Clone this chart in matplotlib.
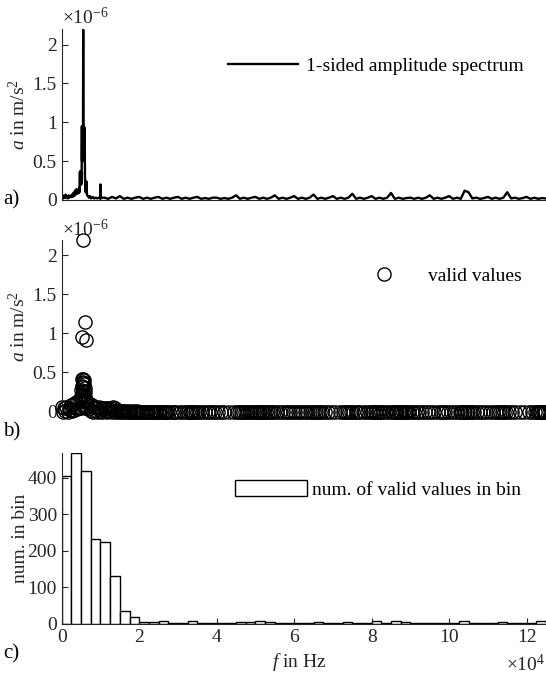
import numpy as np
import matplotlib.pyplot as plt
from matplotlib.ticker import FuncFormatter

plt.rcParams['font.family'] = 'Liberation Serif'
plt.rcParams['mathtext.fontset'] = 'custom'
plt.rcParams['mathtext.rm'] = 'Liberation Serif'
plt.rcParams['mathtext.it'] = 'Liberation Serif:italic'
plt.rcParams['font.size'] = 14

gray = '#262626'

# 1-sided amplitude spectrum, f in kHz, a in 1e-6 m/s^2 (low part, read point by point)
spec_f_low = [0.0, 0.08, 0.25, 0.4, 0.6, 0.8, 1.0, 1.2, 1.4, 1.6, 1.8, 2.0, 2.2, 2.4, 2.6, 2.8,
              3.0, 3.2, 3.4, 3.6, 3.8, 4.0, 4.2, 4.35, 4.5, 4.6, 4.7, 4.75, 4.8, 4.85, 4.9, 4.95,
              5.0, 5.05, 5.1, 5.15, 5.2, 5.25, 5.3, 5.35, 5.4, 5.45, 5.5, 5.55, 5.6, 5.65, 5.7,
              5.75, 5.8, 5.85, 5.9, 5.95, 6.0, 6.05, 6.1, 6.15, 6.2, 6.25, 6.3, 6.35, 6.4, 6.45,
              6.5, 6.6, 6.8, 7.0, 7.3, 7.6, 8.0, 8.4, 8.8, 9.2, 9.6, 9.95, 10.0, 10.05, 10.5]
spec_a_low = [0.20, 0.03, 0.06, 0.02, 0.05, 0.03, 0.07, 0.03, 0.05, 0.02, 0.06, 0.03, 0.05, 0.04, 0.07, 0.04,
              0.09, 0.05, 0.12, 0.07, 0.14, 0.08, 0.13, 0.09, 0.16, 0.10, 0.36, 0.20, 0.37, 0.25, 0.37, 0.20,
              0.35, 0.20, 0.30, 0.30, 0.95, 0.50, 0.95, 0.60, 0.95, 0.70, 0.90, 2.19, 0.80, 0.95, 0.60,
              0.93, 0.50, 0.93, 0.60, 0.93, 0.30, 0.24, 0.12, 0.24, 0.10, 0.24, 0.12, 0.23, 0.10, 0.23,
              0.08, 0.06, 0.05, 0.03, 0.05, 0.02, 0.04, 0.02, 0.03, 0.02, 0.03, 0.02, 0.20, 0.02, 0.03]
# upper part, one value per kHz from 11 kHz on
spec_a_high = [0.03, 0.015, 0.04, 0.02, 0.05, 0.015, 0.03, 0.015, 0.03, 0.04,
               0.015, 0.03, 0.015, 0.03, 0.04, 0.015, 0.03, 0.015, 0.03, 0.04,
               0.015, 0.03, 0.015, 0.03, 0.04, 0.015, 0.025, 0.015, 0.03, 0.03,
               0.015, 0.025, 0.015, 0.03, 0.06, 0.015, 0.03, 0.015, 0.03, 0.04,
               0.015, 0.03, 0.015, 0.03, 0.06, 0.015, 0.03, 0.015, 0.03, 0.05,
               0.015, 0.03, 0.015, 0.03, 0.07, 0.015, 0.03, 0.015, 0.03, 0.05,
               0.015, 0.03, 0.015, 0.03, 0.08, 0.015, 0.03, 0.015, 0.03, 0.05,
               0.015, 0.03, 0.015, 0.03, 0.09, 0.015, 0.03, 0.015, 0.025, 0.03,
               0.015, 0.03, 0.015, 0.03, 0.06, 0.015, 0.03, 0.015, 0.03, 0.05,
               0.015, 0.03, 0.015, 0.12, 0.10, 0.02, 0.03, 0.015, 0.025, 0.04,
               0.015, 0.03, 0.015, 0.03, 0.10, 0.02, 0.03, 0.015, 0.025, 0.04,
               0.015, 0.03, 0.015, 0.025, 0.02]
spec_f_high = 11 + np.arange(len(spec_a_high))

# valid values (kHz, 1e-6 m/s^2)
tall_f = [5.55, 5.9, 5.2, 6.3]
tall_a = [2.19, 1.14, 0.95, 0.92]
clus_f = [5.3, 5.5, 5.7, 5.4, 5.6, 5.8, 5.2, 5.5, 5.9, 5.1, 5.6, 6.0, 5.3, 5.7, 4.9, 6.1, 5.0, 5.9, 6.4]
clus_a = [0.42, 0.41, 0.40, 0.38, 0.36, 0.35, 0.33, 0.31, 0.30, 0.28, 0.26, 0.25, 0.23, 0.21, 0.20, 0.19,
          0.17, 0.16, 0.15]
low_f = [0.0, 0.3, 0.6, 0.9, 1.2, 1.5, 1.8, 2.1, 2.4, 2.7, 3.0, 3.3, 3.6, 3.9, 4.2, 4.5, 4.8, 5.1, 5.4,
         5.7, 6.0, 6.3, 6.6, 6.9, 7.2, 7.5, 7.8, 8.1, 8.4, 8.7, 9.0, 9.3, 9.6, 9.9, 10.2, 10.5, 10.8,
         11.1, 11.4, 11.7, 12.0, 12.3, 12.6, 12.9, 13.2, 13.5, 13.8, 14.1, 14.4, 14.7, 15.0, 15.3,
         15.6, 15.9, 16.2, 16.5, 16.8, 17.1, 17.4, 17.7, 18.0, 18.3, 18.6, 18.9, 19.2, 19.5, 19.8]
low_a = [0.06, 0.0, 0.05, 0.01, 0.06, 0.0, 0.05, 0.02, 0.08, 0.01, 0.10, 0.02, 0.12, 0.03, 0.14, 0.04,
         0.15, 0.05, 0.14, 0.06, 0.14, 0.04, 0.12, 0.03, 0.10, 0.01, 0.08, 0.0, 0.06, 0.01, 0.05, 0.0,
         0.06, 0.01, 0.05, 0.0, 0.05, 0.01, 0.04, 0.0, 0.05, 0.01, 0.04, 0.0, 0.06, 0.01, 0.05, 0.0,
         0.02, 0.0, 0.01, 0.0, 0.01, 0.0, 0.01, 0.0, 0.01, 0.0, 0.0, 0.01, 0.0, 0.0, 0.01, 0.0, 0.0,
         0.01, 0.0]
tail_f = [20.3, 20.7, 21.1, 21.5, 21.9, 22.3, 22.7, 23.1, 23.6, 24.0, 24.4, 24.8,
          25.2, 25.5, 25.9, 26.3, 26.6, 27.0, 27.3, 27.8, 28.4, 29.0, 29.6, 30.5, 31.3, 32.1,
          32.7, 33.1, 33.4, 33.7, 34.0, 34.4, 34.8, 35.4, 36.2, 37.0, 37.8, 38.4, 39.0, 39.6,
          40.4, 41.2, 42.0, 43.3, 44.4, 45.2, 45.7, 46.2, 46.7, 47.2, 47.7, 48.2, 48.7, 49.2, 49.7,
          50.1, 50.4, 50.8, 51.2, 51.6, 51.9, 52.3, 52.8, 53.3, 53.8, 54.3, 54.8, 55.5, 56.3, 57.1,
          57.8, 58.4, 59.0, 59.6, 60.3, 60.9, 61.5, 62.1, 62.8, 63.4, 64.0, 64.6,
          65.2, 65.7, 66.2, 66.7, 67.2, 68.0, 68.8, 69.6, 70.6, 71.8, 72.7, 73.2, 73.7, 74.2, 74.7,
          75.3, 75.9, 76.5, 77.1, 78.0, 78.8, 79.6, 80.1, 80.4, 80.8, 81.2, 81.6, 81.9, 82.3,
          83.0, 83.8, 84.6, 85.2, 85.5, 85.9, 86.3, 86.6, 87.0, 87.3, 87.7, 88.1, 88.5, 88.9, 89.3, 89.7,
          90.4, 91.0, 91.6, 92.2, 93.0, 93.8, 94.6, 95.4, 96.2, 97.0, 97.8, 98.4, 99.0, 99.6,
          100.5, 101.3, 102.1, 102.7, 103.0, 103.4, 103.8, 104.1, 104.5, 104.8, 105.3, 105.9, 106.5,
          107.1, 108.0, 108.8, 109.6, 110.5, 111.3, 112.1, 112.7, 113.2, 113.7, 114.2, 114.7,
          115.4, 116.2, 117.0, 118.2, 119.4, 120.5, 121.3, 122.1, 122.6, 122.9, 123.2, 123.5,
          123.8, 124.1, 124.4, 124.7]

# histogram: number of valid values per 2.5 kHz bin
bin_counts = [403, 467, 418, 233, 223, 130, 36, 19, 6, 6,
              7, 4, 3, 7, 3, 4, 3, 2, 5, 5,
              7, 5, 3, 4, 4, 4, 5, 3, 2, 5,
              4, 3, 7, 3, 7, 6, 4, 3, 3, 4,
              3, 7, 4, 3, 3, 5, 3, 2, 3, 8]
bin_width = 2500.0
f_max = 125000.0

W, H = 546, 678
fig = plt.figure(figsize=(W / 100, H / 100), dpi=100)


def add_ax(top_px):
    ax = fig.add_axes([61.7 / W, 1 - (top_px + 171) / H, (W - 61.7) / W, 171 / H])
    for s in ['top', 'right']:
        ax.spines[s].set_visible(False)
    for s in ['left', 'bottom']:
        ax.spines[s].set_color(gray)
        ax.spines[s].set_linewidth(0.8)
    ax.tick_params(direction='in', length=4, width=0.8, color=gray, labelcolor=gray, labelsize=14)
    ax.set_xlim(0, f_max)
    ax.set_xticks(np.arange(0, 120001, 20000))
    return ax


fmt = FuncFormatter(lambda v, p: ('%g' % v))

# a) spectrum
ax1 = add_ax(29)
spec_f = np.concatenate([spec_f_low, spec_f_high]) * 1000
spec_a = np.concatenate([spec_a_low, spec_a_high])
ax1.plot(spec_f, spec_a, color='k', lw=1.7, label='1-sided amplitude spectrum')
ax1.set_ylim(0, 2.2)
ax1.set_yticks([0, 0.5, 1, 1.5, 2])
ax1.yaxis.set_major_formatter(fmt)
ax1.set_xticklabels([])
ax1.tick_params(axis='x', length=0)
ax1.set_ylabel(r'$a$ in m/s$^2$', color=gray)
ax1.yaxis.set_label_coords(-0.067, 0.5)
ax1.text(0.0, 1.005, r'×10$^{-6}$', transform=ax1.transAxes, ha='left', va='bottom', color=gray)
ax1.legend(loc='upper left', bbox_to_anchor=(0.343, 0.835), frameon=False, borderpad=0,
           borderaxespad=0, handlelength=3.6, handletextpad=0.4)

# b) valid values
ax2 = add_ax(240.5)
valid_f = np.concatenate([tall_f, clus_f, low_f, tail_f]) * 1000
valid_a = np.concatenate([tall_a, clus_a, low_a, np.zeros(len(tail_f))])
ax2.plot(valid_f, valid_a, 'o', mfc='none', mec='k', ms=9.5, mew=1.0, clip_on=False,
         label='valid values')
ax2.set_ylim(0, 2.19)
ax2.set_yticks([0, 0.5, 1, 1.5, 2])
ax2.yaxis.set_major_formatter(fmt)
ax2.set_xticklabels([])
ax2.spines['bottom'].set_visible(False)
ax2.tick_params(axis='x', length=0)
ax2.set_ylabel(r'$a$ in m/s$^2$', color=gray)
ax2.yaxis.set_label_coords(-0.067, 0.5)
ax2.text(0.0, 1.0, r'×10$^{-6}$', transform=ax2.transAxes, ha='left', va='bottom', color=gray)
ax2.legend(loc='upper left', bbox_to_anchor=(0.591, 0.845), frameon=False, borderpad=0,
           borderaxespad=0, handlelength=3.7, handletextpad=0.4)

# c) histogram
ax3 = add_ax(453)
edges = np.arange(len(bin_counts)) * bin_width
ax3.bar(edges, bin_counts, width=bin_width, align='edge', facecolor='white', edgecolor='k',
        lw=1.0, label='num. of valid values in bin')
ax3.set_ylim(0, max(bin_counts))
ax3.set_yticks([0, 100, 200, 300, 400])
ax3.xaxis.set_major_formatter(FuncFormatter(lambda v, p: '%g' % (v / 1e4)))
ax3.set_ylabel('num. in bin', color=gray)
ax3.yaxis.set_label_coords(-0.067, 0.5)
ax3.set_xlabel(r'$f$ in Hz', color=gray)
ax3.xaxis.set_label_coords(0.49, -0.16)
ax3.legend(loc='upper left', bbox_to_anchor=(0.358, 0.845), frameon=False, borderpad=0,
           borderaxespad=0, handlelength=3.7, handleheight=0.95, handletextpad=0.25)
fig.text(545 / W, 1 - 664 / H, r'×10$^{4}$', ha='right', va='center', color=gray)

# panel letters
fig.text(3 / W, 1 - 200 / H, 'a)', ha='left', va='center', fontsize=15)
fig.text(3 / W, 1 - 432 / H, 'b)', ha='left', va='center', fontsize=15)
fig.text(3 / W, 1 - 654 / H, 'c)', ha='left', va='center', fontsize=15)

fig.savefig('out.png', dpi=100)
